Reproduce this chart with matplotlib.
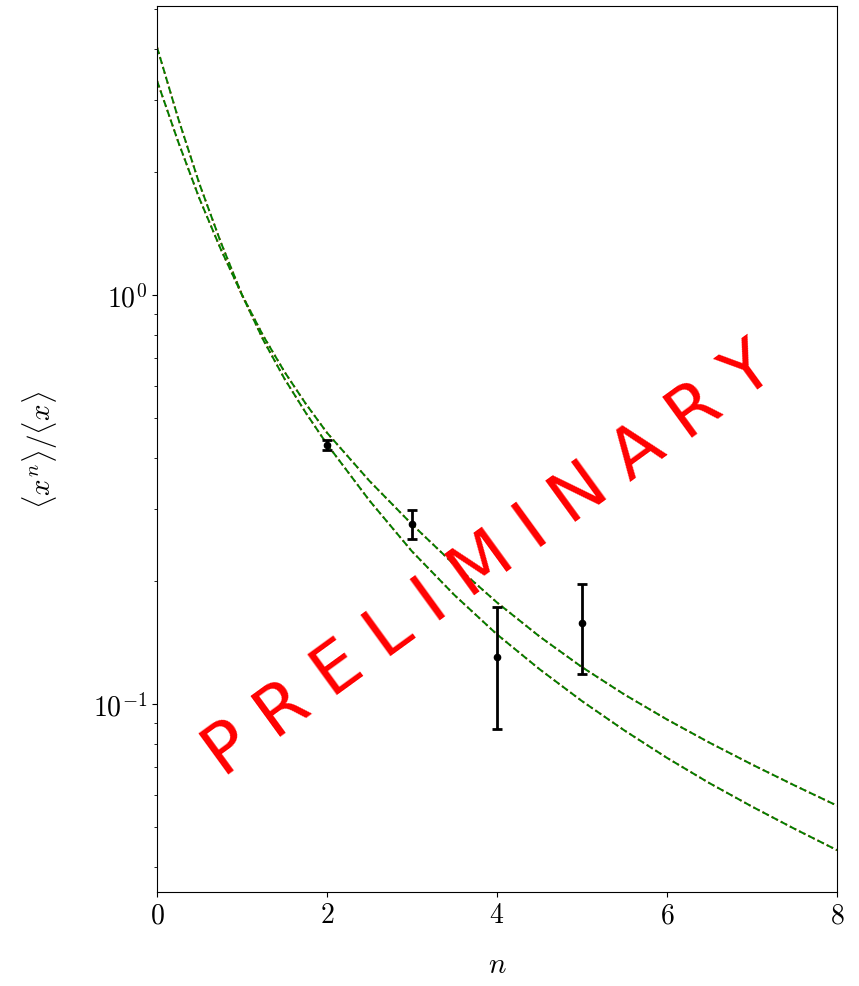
import matplotlib
matplotlib.use("Agg")
import matplotlib.pyplot as plt

# curve grid and values
n_curve = [0, 0.25, 0.5, 0.75, 1, 1.25, 1.5, 1.75, 2, 2.5, 3, 3.5, 4, 4.5, 5, 5.5, 6, 6.5, 7, 7.5, 8]
ratio_a = [4.036, 2.698, 1.866, 1.346, 1.0, 0.7762, 0.6237, 0.5152, 0.4315, 0.3141, 0.2360,
           0.1845, 0.1479, 0.1216, 0.1016, 0.0861, 0.0738, 0.0640, 0.0561, 0.0495, 0.0439]
ratio_b = [3.342, 2.366, 1.718, 1.294, 1.0, 0.7943, 0.6486, 0.5420, 0.4603, 0.3508, 0.2748,
           0.2188, 0.1770, 0.1462, 0.1230, 0.1054, 0.0916, 0.0804, 0.0711, 0.0632, 0.0564]

# data points
n_data = [2, 3, 4, 5]
ratio_data = [0.430, 0.2755, 0.130, 0.1575]
ratio_err = [0.013, 0.023, 0.043, 0.039]

plt.rcParams['mathtext.fontset'] = 'cm'
plt.rcParams['font.family'] = 'serif'
plt.rcParams['font.serif'] = ['cmr10', 'DejaVu Serif']
plt.rcParams['axes.formatter.use_mathtext'] = True
plt.rcParams['axes.unicode_minus'] = False

fig = plt.figure(figsize=(8.59, 9.87), dpi=100)
ax = fig.add_axes([0.1828, 0.0952, 0.7916, 0.8977])

for curve in (ratio_a, ratio_b):
    ax.plot(n_curve, curve, linestyle=':', color='red', linewidth=1.4)
    ax.plot(n_curve, curve, linestyle='--', color='green', linewidth=1.4)

ax.errorbar(n_data, ratio_data, yerr=ratio_err, fmt='o', color='black',
            markersize=4.5, elinewidth=2, capsize=3.5, capthick=2)

ax.set_yscale('log')
ax.set_xlim(0, 8)
ax.set_ylim(10 ** -1.46, 10 ** 0.7066)
ax.set_xticks([0, 2, 4, 6, 8])
ax.tick_params(labelsize=20)
ax.set_xlabel(r'$n$', fontsize=21, labelpad=17)
ax.set_ylabel(r'$\langle x^n\rangle/\langle x\rangle$', fontsize=21, labelpad=24)

ax.text(0.488, 0.376, 'P R E L I M I N A R Y', transform=ax.transAxes,
        fontsize=50, color='red', family='DejaVu Sans',
        rotation=36, ha='center', va='center', rotation_mode='anchor')

fig.savefig('out.png', dpi=100)
